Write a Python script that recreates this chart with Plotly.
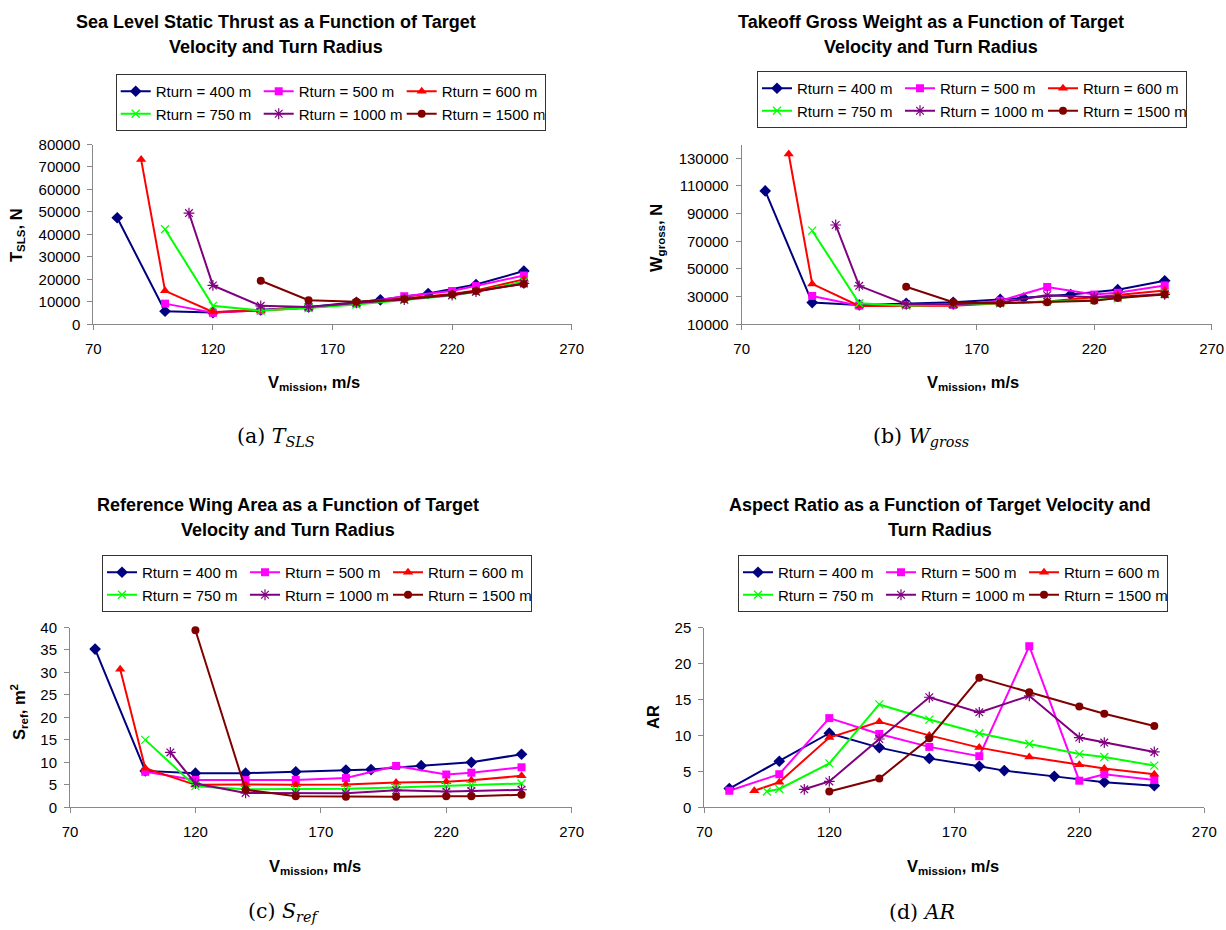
import plotly.graph_objects as go

N = None
# Mission velocity grid (m/s)
V = [80, 90, 95, 100, 110, 120, 140, 160, 180, 190, 200, 210, 220, 230, 250]

series_names = ["Rturn = 400 m", "Rturn = 500 m", "Rturn = 600 m",
                "Rturn = 750 m", "Rturn = 1000 m", "Rturn = 1500 m"]

# (a) Sea level static thrust, N
T_400 = [47400, N, N, 5800, N, 5200, 6400, 7700, 9800, 10900, N, 13700, N, 17700, 23700]
T_500 = [N, N, N, 9200, N, 5100, 6200, 7500, 9300, N, 12500, N, 14800, 17000, 21700]
T_600 = [N, 73300, N, 14900, N, 5500, 6100, 7400, 9200, N, 11500, N, 13500, 15000, 20000]
T_750 = [N, N, N, 42300, N, 8200, 6100, 7200, 8800, N, 10800, N, 12800, 14500, 19000]
T_1000 = [N, N, N, N, 49500, 17300, 8200, 7750, 9500, N, 11000, N, 13000, 14500, 18200]
T_1500 = [N, N, N, N, N, N, 19400, 10700, 10000, N, 11300, N, 13300, 14800, 17900]

# (b) Takeoff gross weight, N
W_400 = [106400, N, N, 25700, N, 24000, 25200, 25900, 28000, 29000, N, 31500, N, 35000, 41500]
W_500 = [N, N, N, 30500, N, 23500, 24000, 24000, 27000, N, 37000, N, 31500, 32800, 38100]
W_600 = [N, 133100, N, 39200, N, 23300, 23300, 23500, 25200, N, 26400, N, 29500, 31200, 34500]
W_750 = [N, N, N, 77700, N, 25200, 23500, 24200, 25200, N, 26400, N, 27600, 28800, 32300]
W_1000 = [N, N, N, N, 81800, 37800, 24500, 24500, 25700, N, 31000, N, 29500, 30000, 31700]
W_1500 = [N, N, N, N, N, N, 37200, 25900, 25200, N, 26000, N, 27000, 29000, 31500]

# (c) Reference wing area, m^2
S_400 = [35.2, N, N, 8.1, N, 7.6, 7.6, 7.9, 8.3, 8.4, N, 9.25, N, 10.0, 11.8]
S_500 = [N, N, N, 7.9, N, 6.1, 6.05, 6.1, 6.5, N, 9.2, N, 7.3, 7.7, 8.9]
S_600 = [N, 30.7, N, 8.7, N, 5.0, 5.1, 5.0, 5.1, N, 5.5, N, 5.7, 6.0, 7.0]
S_750 = [N, N, N, 15.0, N, 4.7, 4.0, 4.0, 4.1, N, 4.4, N, 4.7, 5.0, 5.3]
S_1000 = [N, N, N, N, 12.2, 5.3, 3.2, 3.1, 3.1, N, 3.8, N, 3.5, 3.6, 3.9]
S_1500 = [N, N, N, N, N, 39.4, 3.9, 2.45, 2.35, N, 2.35, N, 2.45, 2.45, 2.8]

# (d) Aspect ratio
AR_400 = [2.6, N, N, 6.4, N, 10.3, 8.3, 6.8, 5.7, 5.1, N, 4.3, N, 3.5, 3.0]
AR_500 = [2.3, N, N, 4.6, N, 12.4, 10.2, 8.4, 7.1, N, 22.4, N, 3.7, 4.6, 3.8]
AR_600 = [N, 2.3, N, 3.5, N, 9.7, 11.9, 10.0, 8.3, N, 7.0, N, 5.9, 5.4, 4.6]
AR_750 = [N, N, 2.2, 2.55, N, 6.1, 14.3, 12.2, 10.3, N, 8.8, N, 7.4, 7.0, 5.8]
AR_1000 = [N, N, N, N, 2.5, 3.6, 9.5, 15.3, 13.2, N, 15.5, N, 9.7, 9.0, 7.7]
AR_1500 = [N, N, N, N, N, 2.2, 4.0, 9.6, 18.0, N, 16.0, N, 14.0, 13.0, 11.3]

colors = ["#000080", "#FF00FF", "#FF0000", "#00FF00", "#800080", "#800000"]
symbols = ["diamond", "square", "triangle-up", "x-thin-open", "asterisk-open", "circle"]
msizes = [9, 8, 9, 8, 9, 8]
groups = ["g1", "g2", "g3", "g1", "g2", "g3"]

FONT = "Liberation Sans, Arial, sans-serif"
W, H = 1226, 930


def px(x):
    return x / W


def py(y):
    return 1 - y / H


fig = go.Figure()

panels = [
    ("x", "y", "legend", [T_400, T_500, T_600, T_750, T_1000, T_1500]),
    ("x2", "y2", "legend2", [W_400, W_500, W_600, W_750, W_1000, W_1500]),
    ("x3", "y3", "legend3", [S_400, S_500, S_600, S_750, S_1000, S_1500]),
    ("x4", "y4", "legend4", [AR_400, AR_500, AR_600, AR_750, AR_1000, AR_1500]),
]

for pi, (xa, ya, lg, data) in enumerate(panels):
    for i, vals in enumerate(data):
        open_sym = symbols[i].endswith("open")
        fig.add_trace(go.Scatter(
            x=V, y=vals, name=series_names[i], mode="lines+markers",
            connectgaps=True, xaxis=xa, yaxis=ya, legend=lg,
            legendgroup=f"p{pi}{groups[i]}",
            line=dict(color=colors[i], width=2),
            marker=dict(symbol=symbols[i], size=msizes[i], color=colors[i],
                        line=dict(color=colors[i], width=1.2 if open_sym else 0)),
            cliponaxis=False,
        ))

axis_common = dict(showline=True, linecolor="#888888", linewidth=1, ticks="outside",
                   ticklen=5, tickcolor="#888888", showgrid=False, zeroline=False,
                   tickformat="d", automargin=False,
                   tickfont=dict(family=FONT, size=15, color="black"))

xdef = dict(range=[70, 270], tick0=70, dtick=50, ticklabelstandoff=6, **axis_common)


def yaxis(rng, t0, dt, anchor, dom):
    return dict(range=rng, tick0=t0, dtick=dt, anchor=anchor, domain=dom,
                ticklabelstandoff=4, **axis_common)


dom_a_x = [px(93.3), px(571.7)]
dom_b_x = [px(741.7), px(1211.7)]
dom_c_x = [px(70), px(571.7)]
dom_d_x = [px(704.3), px(1204.3)]
dom_top_y = [py(324.3), py(144.5)]
dom_bot_y = [py(807.3), py(627.5)]

legend_common = dict(orientation="h", traceorder="grouped", xanchor="left", yanchor="top",
                     bordercolor="#333333", borderwidth=1, bgcolor="white",
                     font=dict(family=FONT, size=15, color="black"),
                     tracegroupgap=0, itemwidth=30,
                     entrywidth=98, entrywidthmode="pixels")

ann = []


def text(x, y, s, size, angle=0, family=FONT):
    ann.append(dict(x=px(x), y=py(y), xref="paper", yref="paper", text=s, showarrow=False,
                    xanchor="center", yanchor="middle", textangle=angle,
                    font=dict(family=family, size=size, color="black")))


# Titles
TS = 18
text(276, 22, "<b>Sea Level Static Thrust as a Function of Target</b>", TS)
text(276, 47, "<b>Velocity and Turn Radius</b>", TS)
text(931, 22, "<b>Takeoff Gross Weight as a Function of Target</b>", TS)
text(931, 47, "<b>Velocity and Turn Radius</b>", TS)
text(288, 505, "<b>Reference Wing Area as a Function of Target</b>", TS)
text(288, 530, "<b>Velocity and Turn Radius</b>", TS)
text(940, 505, "<b>Aspect Ratio as a Function of Target Velocity and</b>", TS)
text(940, 530, "<b>Turn Radius</b>", TS)

# Axis titles
xt = "<b>V<sub>mission</sub>, m/s</b>"
text(314, 383, xt, 16.5)
text(973, 383, xt, 16.5)
text(315, 867, xt, 16.5)
text(953, 867, xt, 16.5)
text(17, 235, "<b>T<sub>SLS</sub>, N</b>", 16.5, -90)
text(657, 238, "<b>W<sub>gross</sub>, N</b>", 16.5, -90)
text(19, 712, "<b>S<sub>ref</sub>, m<sup>2</sup></b>", 16.5, -90)
text(653, 717, "<b>AR</b>", 16.5, -90)

# Captions
SERIF = "DejaVu Serif, Liberation Serif, serif"
CS = 20.5
text(276, 437, "(a) <i>T</i><sub><i>SLS</i></sub>", CS, family=SERIF)
text(921, 437, "(b) <i>W</i><sub><i>gross</i></sub>", CS, family=SERIF)
text(283, 912, "(c) <i>S</i><sub><i>ref</i></sub>", CS, family=SERIF)
text(922, 912, "(d) <i>AR</i>", CS, family=SERIF)

fig.update_layout(
    width=W, height=H, margin=dict(l=0, r=0, t=0, b=0, pad=0, autoexpand=False),
    paper_bgcolor="white", plot_bgcolor="white", showlegend=True,
    xaxis=dict(domain=dom_a_x, anchor="y", **xdef),
    yaxis=yaxis([0, 80000], 0, 10000, "x", dom_top_y),
    xaxis2=dict(domain=dom_b_x, anchor="y2", **xdef),
    yaxis2=yaxis([10000, 140000], 10000, 20000, "x2", dom_top_y),
    xaxis3=dict(domain=dom_c_x, anchor="y3", **xdef),
    yaxis3=yaxis([0, 40], 0, 5, "x3", dom_bot_y),
    xaxis4=dict(domain=dom_d_x, anchor="y4", **xdef),
    yaxis4=yaxis([0, 25], 0, 5, "x4", dom_bot_y),
    legend=dict(x=px(115.7), y=py(74), **legend_common),
    legend2=dict(x=px(757), y=py(71), **legend_common),
    legend3=dict(x=px(102), y=py(555), **legend_common),
    legend4=dict(x=px(738), y=py(555), **legend_common),
    annotations=ann,
)

fig.write_html("out.html")
